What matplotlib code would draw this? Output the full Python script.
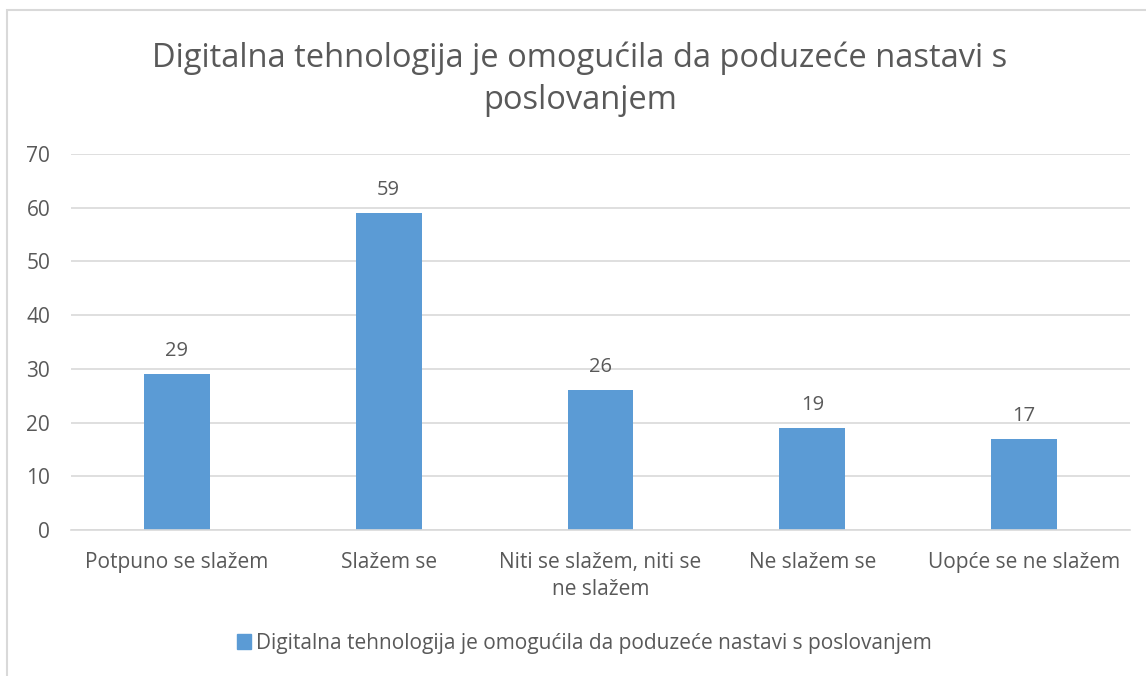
import matplotlib.pyplot as plt
from matplotlib.patches import Rectangle

categories = ["Potpuno se slažem", "Slažem se", "Niti se slažem, niti se\nne slažem",
              "Ne slažem se", "Uopće se ne slažem"]
values = [29, 59, 26, 19, 17]
series_name = "Digitalna tehnologija je omogućila da poduzeće nastavi s poslovanjem"
title = "Digitalna tehnologija je omogućila da poduzeće nastavi s\nposlovanjem"

BAR = "#5b9bd5"
INK = "#595959"
GRID = "#d9d9d9"

plt.rcParams["font.family"] = ["Open Sans", "DejaVu Sans"]

W, H = 1146, 676
fig = plt.figure(figsize=(W / 100, H / 100), dpi=100)

# chart-area border (only left/top edges visible in the crop)
fig.patches.append(Rectangle((7 / W, -0.1), 1.2, 1 - 10 / H + 0.1, transform=fig.transFigure,
                             fill=False, edgecolor=GRID, linewidth=1.5))

ax = fig.add_axes([71 / W, 1 - 530 / H, (1130 - 71) / W, (530 - 154) / H])
x = range(len(categories))
bars = ax.bar(x, values, width=0.31, color=BAR, zorder=2)
for b, v in zip(bars, values):
    ax.text(b.get_x() + b.get_width() / 2, v + 2.4, str(v), ha="center", va="bottom",
            fontsize=14.5, color=INK)

ax.set_xlim(-0.5, len(categories) - 0.5)
ax.set_ylim(0, 70)
ax.set_yticks(range(0, 71, 10))
ax.set_xticks(list(x))
ax.set_xticklabels(categories, fontsize=15, color=INK, linespacing=1.35)
ax.tick_params(axis="y", labelsize=15, labelcolor=INK, length=0, pad=15)
ax.tick_params(axis="x", length=0, pad=16)
ax.grid(axis="y", color=GRID, linewidth=1.2, zorder=0)
for s in ["top", "right", "left"]:
    ax.spines[s].set_visible(False)
ax.spines["bottom"].set_color(GRID)
ax.spines["bottom"].set_linewidth(1.2)

fig.text(0.506, 1 - 79 / H, title, ha="center", va="center", fontsize=23.5, color=INK,
         linespacing=1.35)

fig.legend(handles=[Rectangle((0, 0), 1, 1, color=BAR)], labels=[series_name],
           loc="center", bbox_to_anchor=(0.51, 1 - 643 / H), frameon=False,
           fontsize=15, labelcolor=INK, handlelength=0.7, handleheight=0.7,
           handletextpad=0.25)

fig.savefig("out.png", dpi=100)
